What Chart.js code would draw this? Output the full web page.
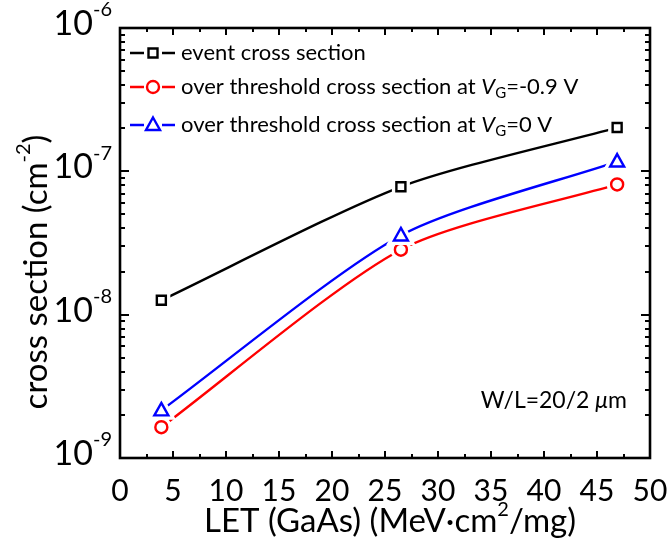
<!DOCTYPE html>
<html>
<head>
<meta charset="utf-8">
<script src="https://cdn.jsdelivr.net/npm/chart.js@4"></script>
<style>
  html, body { margin: 0; padding: 0; background: #fff; }
  #wrap { width: 670px; height: 539px; }
</style>
</head>
<body>
<div id="wrap"><canvas id="crossChart" width="670" height="539"></canvas></div>
<script>
// data
const letValues = [3.9, 26.5, 46.9];
const eventCross = [1.26e-8, 7.8e-8, 2.02e-7];
const overCrossNeg09 = [1.64e-9, 2.84e-8, 8.1e-8];
const overCross0 = [2.15e-9, 3.57e-8, 1.17e-7];

const xTickValues = [0, 5, 10, 15, 20, 25, 30, 35, 40, 45, 50];
const yExponents = [-9, -8, -7, -6];

const FONT = 'Lato, "Open Sans", sans-serif';

function pts(ys) {
  return letValues.map((x, i) => ({ x: x, y: ys[i] }));
}

// draw text made of pieces (superscript / subscript / italic)
function richText(ctx, parts, x, y, align) {
  let total = 0;
  parts.forEach(p => {
    ctx.font = (p.italic ? 'italic ' : '') + p.size + 'px ' + FONT;
    p.w = ctx.measureText(p.t).width;
    total += p.w;
  });
  let cx = align === 'right' ? x - total : align === 'center' ? x - total / 2 : x;
  parts.forEach(p => {
    ctx.font = (p.italic ? 'italic ' : '') + p.size + 'px ' + FONT;
    ctx.textAlign = 'left';
    ctx.fillText(p.t, cx, y + (p.dy || 0));
    cx += p.w;
  });
}

function markerPath(ctx, style, x, y) {
  ctx.beginPath();
  if (style === 'rect') {
    ctx.rect(x - 4.5, y - 4.5, 9, 9);
  } else if (style === 'circle') {
    ctx.arc(x, y, 6, 0, Math.PI * 2);
  } else {
    ctx.moveTo(x, y - 7.5);
    ctx.lineTo(x + 7, y + 5);
    ctx.lineTo(x - 7, y + 5);
    ctx.closePath();
  }
}

function drawMarker(ctx, style, x, y, color, gap) {
  ctx.save();
  if (gap) {
    // white halo so the curve stops short of the symbol
    ctx.strokeStyle = '#fff';
    ctx.fillStyle = '#fff';
    ctx.lineWidth = 9;
    markerPath(ctx, style, x, y);
    ctx.fill();
    ctx.stroke();
  }
  ctx.strokeStyle = color;
  ctx.lineWidth = 2.4;
  markerPath(ctx, style, x, y);
  ctx.stroke();
  ctx.restore();
}

const framePlugin = {
  id: 'frame',
  afterDatasetsDraw(chart) {
    const ctx = chart.ctx;
    const a = chart.chartArea;
    const xs = chart.scales.x;
    const ys = chart.scales.y;

    // hollow markers at each data point, placed by the scales
    chart.data.datasets.forEach((ds, i) => {
      chart.getDatasetMeta(i).data.forEach(el => {
        drawMarker(ctx, ds.pointStyle, el.x, el.y, ds.borderColor, true);
      });
    });

    ctx.save();
    ctx.strokeStyle = '#000';
    ctx.fillStyle = '#000';

    // ticks inward on all four sides
    ctx.lineWidth = 2;
    ctx.beginPath();
    for (let v = 0; v <= 50; v += 2.5) {
      const px = Math.round(xs.getPixelForValue(v));
      const len = v % 5 === 0 ? 7 : 4;
      ctx.moveTo(px, a.bottom); ctx.lineTo(px, a.bottom - len);
      ctx.moveTo(px, a.top); ctx.lineTo(px, a.top + len);
    }
    for (let e = -9; e <= -7; e++) {
      for (let m = 1; m <= 10; m++) {
        const py = Math.round(ys.getPixelForValue(m * Math.pow(10, e)));
        const len = (m === 1 || m === 10) ? 9 : 5;
        ctx.moveTo(a.left, py); ctx.lineTo(a.left + len, py);
        ctx.moveTo(a.right, py); ctx.lineTo(a.right - len, py);
      }
    }
    ctx.stroke();

    // frame
    ctx.lineWidth = 2.6;
    ctx.strokeRect(a.left, a.top, a.right - a.left, a.bottom - a.top);

    // x tick labels
    ctx.textBaseline = 'middle';
    ctx.font = '30px ' + FONT;
    ctx.textAlign = 'center';
    xTickValues.forEach(v => {
      ctx.fillText(String(v), xs.getPixelForValue(v), 491);
    });

    // y tick labels
    yExponents.forEach(e => {
      const py = ys.getPixelForValue(Math.pow(10, e));
      richText(ctx, [
        { t: '10', size: 34 },
        { t: String(e), size: 20, dy: -14 }
      ], 112, py - 4, 'right');
    });

    // x title
    richText(ctx, [
      { t: 'LET (GaAs) (MeV\u00b7cm', size: 33 },
      { t: '2', size: 20, dy: -11 },
      { t: '/mg)', size: 33 }
    ], 390, 521, 'center');

    // y title
    ctx.save();
    ctx.translate(36, 272);
    ctx.rotate(-Math.PI / 2);
    richText(ctx, [
      { t: 'cross section (cm', size: 33 },
      { t: '-2', size: 20, dy: -12 },
      { t: ')', size: 33 }
    ], 0, 0, 'center');
    ctx.restore();

    // annotation
    richText(ctx, [
      { t: 'W/L=20/2 ', size: 23 },
      { t: '\u03bc', size: 23, italic: true },
      { t: 'm', size: 23 }
    ], 627, 401, 'right');

    // legend
    const rows = [53, 87, 125];
    chart.data.datasets.forEach((ds, i) => {
      const y = rows[i];
      ctx.strokeStyle = ds.borderColor;
      ctx.lineWidth = 2.5;
      ctx.beginPath();
      ctx.moveTo(130, y); ctx.lineTo(144, y);
      ctx.moveTo(162, y); ctx.lineTo(175, y);
      ctx.stroke();
      drawMarker(ctx, ds.pointStyle, 153, y, ds.borderColor, false);
      ctx.fillStyle = '#000';
      richText(ctx, ds.legendParts, 181, y, 'left');
    });

    ctx.restore();
  }
};

const ctxEl = document.getElementById('crossChart');
new Chart(ctxEl, {
  type: 'line',
  data: {
    datasets: [
      {
        label: 'event cross section',
        legendParts: [{ t: 'event cross section', size: 22 }],
        data: pts(eventCross),
        borderColor: '#000000',
        pointStyle: 'rect'
      },
      {
        label: 'over threshold cross section at VG=-0.9 V',
        legendParts: [
          { t: 'over threshold cross section at ', size: 22 },
          { t: 'V', size: 22, italic: true },
          { t: 'G', size: 15, dy: 6 },
          { t: '=-0.9 V', size: 22 }
        ],
        data: pts(overCrossNeg09),
        borderColor: '#ff0000',
        pointStyle: 'circle'
      },
      {
        label: 'over threshold cross section at VG=0 V',
        legendParts: [
          { t: 'over threshold cross section at ', size: 22 },
          { t: 'V', size: 22, italic: true },
          { t: 'G', size: 15, dy: 6 },
          { t: '=0 V', size: 22 }
        ],
        data: pts(overCross0),
        borderColor: '#0000ff',
        pointStyle: 'triangle'
      }
    ].map(ds => Object.assign(ds, {
      borderWidth: 2.4,
      tension: 0.25,
      fill: false,
      pointRadius: 0,
      pointHoverRadius: 0
    }))
  },
  options: {
    responsive: false,
    animation: false,
    devicePixelRatio: 1,
    layout: { padding: { left: 120, right: 20, top: 28, bottom: 81 } },
    plugins: {
      legend: { display: false },
      tooltip: { enabled: false }
    },
    scales: {
      x: {
        type: 'linear',
        min: 0,
        max: 50,
        grid: { display: false, drawTicks: false },
        border: { display: false },
        ticks: { display: false }
      },
      y: {
        type: 'logarithmic',
        min: 1e-9,
        max: 1e-6,
        grid: { display: false, drawTicks: false },
        border: { display: false },
        ticks: { display: false }
      }
    }
  },
  plugins: [framePlugin]
});
</script>
</body>
</html>
